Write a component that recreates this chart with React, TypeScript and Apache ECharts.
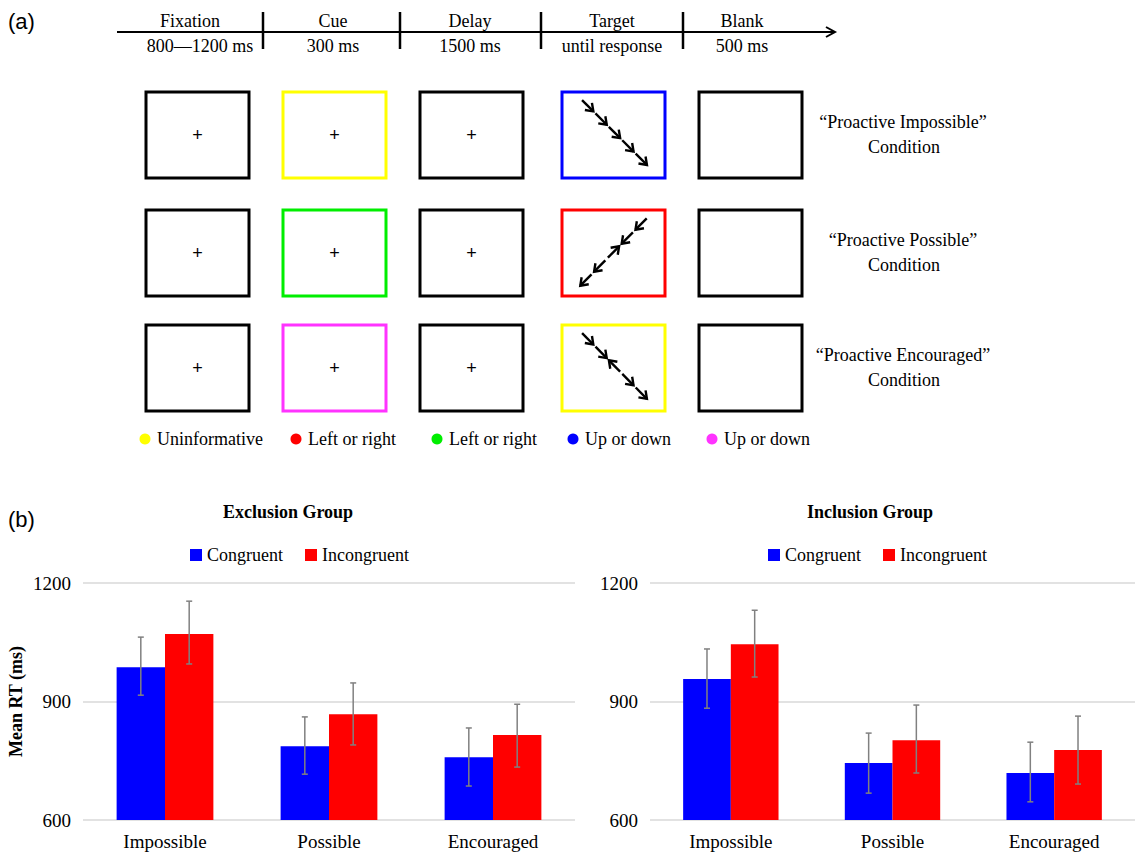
import { useEffect, useRef } from 'react'
import * as echarts from 'echarts'

// panel (b) data
const conditions = ['Impossible', 'Possible', 'Encouraged']
const yTicks = [600, 900, 1200]
const exclCong = [987, 787, 759]
const exclCongErr = [[916, 1063], [716, 861], [686, 833]]
const exclIncong = [1071, 868, 815]
const exclIncongErr = [[995, 1154], [790, 947], [734, 893]]
const inclCong = [957, 744, 719]
const inclCongErr = [[883, 1033], [668, 820], [646, 797]]
const inclIncong = [1045, 802, 777]
const inclIncongErr = [[962, 1131], [719, 891], [691, 863]]

// panel (a) content
const stages = ['Fixation', 'Cue', 'Delay', 'Target', 'Blank']
const durations = ['800\u20141200 ms', '300 ms', '1500 ms', 'until response', '500 ms']
const conditionNames = ['\u201cProactive Impossible\u201d', '\u201cProactive Possible\u201d', '\u201cProactive Encouraged\u201d']
const cueColors = ['#ffff00', '#00ee00', '#ff33ff']
const targetColors = ['#0000ff', '#ff0000', '#ffff00']
const cueLegend = [
  { label: 'Uninformative', color: '#ffff00' },
  { label: 'Left or right', color: '#ff0000' },
  { label: 'Left or right', color: '#00ee00' },
  { label: 'Up or down', color: '#0000ff' },
  { label: 'Up or down', color: '#ff33ff' },
]

const SERIF = '"Liberation Serif", "DejaVu Serif", serif'
const SANS = '"Liberation Sans", Arial, sans-serif'

function arrowGroup(sx: number, sy: number, ex: number, ey: number, flips: number[]) {
  const els: any[] = []
  const len = Math.hypot(ex - sx, ey - sy)
  const ux = (ex - sx) / len
  const uy = (ey - sy) / len
  const ts = [0.1, 0.3, 0.5, 0.7, 0.9]
  ts.forEach((t, i) => {
    const cx = sx + (ex - sx) * t
    const cy = sy + (ey - sy) * t
    const dx = ux * flips[i]
    const dy = uy * flips[i]
    const hx = cx + dx * 8
    const hy = cy + dy * 8
    const style = { stroke: '#000', lineWidth: 2.4, fill: null }
    els.push({ type: 'line', shape: { x1: cx - dx * 8, y1: cy - dy * 8, x2: hx, y2: hy }, style })
    els.push({
      type: 'polyline',
      shape: {
        points: [
          [hx - dx * 7 - dy * 5, hy - dy * 7 + dx * 5],
          [hx, hy],
          [hx - dx * 7 + dy * 5, hy - dy * 7 - dx * 5],
        ],
      },
      style,
    })
  })
  return els
}

export default function App() {
  const chartRef = useRef<HTMLDivElement>(null)

  useEffect(() => {
    if (!chartRef.current) return
    document.body.style.margin = '0'
    const chart = echarts.init(chartRef.current, null, { renderer: 'svg' })

    const graphics: any[] = []
    // panel labels
    graphics.push({ type: 'text', x: 8, y: 10, style: { text: '(a)', font: `22px ${SANS}`, fill: '#000' } })
    graphics.push({ type: 'text', x: 8, y: 508, style: { text: '(b)', font: `22px ${SANS}`, fill: '#000' } })

    // timeline
    graphics.push({ type: 'line', shape: { x1: 117, y1: 32, x2: 834, y2: 32 }, style: { stroke: '#000', lineWidth: 2 } })
    graphics.push({ type: 'polyline', shape: { points: [[826, 27], [835, 32], [826, 37]] }, style: { stroke: '#000', lineWidth: 2, fill: null } })
    ;[263, 400, 541, 683].forEach((x) => {
      graphics.push({ type: 'line', shape: { x1: x, y1: 12, x2: x, y2: 49 }, style: { stroke: '#000', lineWidth: 2.5 } })
    })
    const stageX = [190, 333, 470, 612, 742]
    stages.forEach((s, i) => {
      graphics.push({ type: 'text', x: stageX[i], y: 21, style: { text: s, font: `18px ${SERIF}`, fill: '#000', align: 'center', verticalAlign: 'middle' } })
      graphics.push({ type: 'text', x: i === 0 ? 200 : stageX[i], y: 46, style: { text: durations[i], font: `18px ${SERIF}`, fill: '#000', align: 'center', verticalAlign: 'middle' } })
    })

    // boxes
    const colX = [146, 283, 420, 562, 699]
    const rowY = [92, 210, 325]
    const bw = 103
    const bh = 86
    rowY.forEach((y, r) => {
      colX.forEach((x, c) => {
        let stroke = '#000'
        if (c === 1) stroke = cueColors[r]
        if (c === 3) stroke = targetColors[r]
        graphics.push({ type: 'rect', shape: { x, y, width: bw, height: bh }, style: { stroke, lineWidth: 3, fill: null } })
        if (c < 3) {
          graphics.push({ type: 'text', x: x + bw / 2, y: y + bh / 2, style: { text: '+', font: `18px ${SANS}`, fill: '#000', align: 'center', verticalAlign: 'middle' } })
        }
      })
      graphics.push({ type: 'text', x: 903, y: y + 30, style: { text: conditionNames[r], font: `18px ${SERIF}`, fill: '#000', align: 'center', verticalAlign: 'middle' } })
      graphics.push({ type: 'text', x: 904, y: y + 55, style: { text: 'Condition', font: `18px ${SERIF}`, fill: '#000', align: 'center', verticalAlign: 'middle' } })
    })
    graphics.push(...arrowGroup(581, 99, 648, 166, [1, 1, 1, 1, 1]))
    graphics.push(...arrowGroup(648, 217, 579, 287, [1, 1, -1, 1, 1]))
    graphics.push(...arrowGroup(581, 332, 648, 400, [1, 1, -1, 1, 1]))

    // cue legend
    const legX = [145, 296, 437, 573, 712]
    cueLegend.forEach((l, i) => {
      graphics.push({ type: 'circle', shape: { cx: legX[i], cy: 439, r: 5.5 }, style: { fill: l.color } })
      graphics.push({ type: 'text', x: legX[i] + 12, y: 439, style: { text: l.label, font: `18px ${SERIF}`, fill: '#000', verticalAlign: 'middle' } })
    })

    // panel (b) titles
    graphics.push({ type: 'text', x: 288, y: 512, style: { text: 'Exclusion Group', font: `bold 18px ${SERIF}`, fill: '#000', align: 'center', verticalAlign: 'middle' } })
    graphics.push({ type: 'text', x: 870, y: 512, style: { text: 'Inclusion Group', font: `bold 18px ${SERIF}`, fill: '#000', align: 'center', verticalAlign: 'middle' } })

    const gap = 0.41
    const errSeries = (name: string, gridIdx: number, data: number[][], side: number) => ({
      name,
      type: 'custom',
      xAxisIndex: gridIdx,
      yAxisIndex: gridIdx,
      z: 5,
      data: data.map((d, i) => [i, d[0], d[1]]),
      renderItem: (_params: any, api: any) => {
        const w = api.size([1, 0])[0] * (1 - gap) / 2
        const lo = api.coord([api.value(0), api.value(1)])
        const hi = api.coord([api.value(0), api.value(2)])
        const x = lo[0] + (side * w) / 2
        const style = { stroke: '#808080', lineWidth: 1.5 }
        return {
          type: 'group',
          children: [
            { type: 'line', shape: { x1: x, y1: lo[1], x2: x, y2: hi[1] }, style },
            { type: 'line', shape: { x1: x - 3, y1: lo[1], x2: x + 3, y2: lo[1] }, style },
            { type: 'line', shape: { x1: x - 3, y1: hi[1], x2: x + 3, y2: hi[1] }, style },
          ],
        }
      },
    })
    const barSeries = (name: string, gridIdx: number, data: number[], color: string) => ({
      name,
      type: 'bar',
      xAxisIndex: gridIdx,
      yAxisIndex: gridIdx,
      data,
      barGap: '0%',
      barCategoryGap: '41%',
      itemStyle: { color },
    })
    const xAxis = (gridIndex: number) => ({
      type: 'category',
      gridIndex,
      data: conditions,
      axisTick: { show: false },
      axisLine: { show: false },
      axisLabel: { color: '#000', fontFamily: SERIF, fontSize: 19, margin: 12 },
    })
    const yAxis = (gridIndex: number, named: boolean) => ({
      type: 'value',
      gridIndex,
      min: yTicks[0],
      max: yTicks[yTicks.length - 1],
      interval: 300,
      name: named ? 'Mean RT (ms)' : '',
      nameLocation: 'middle',
      nameGap: 58,
      nameTextStyle: { color: '#000', fontFamily: SERIF, fontSize: 18, fontWeight: 'bold' },
      axisLine: { show: false },
      axisTick: { show: false },
      axisLabel: { color: '#000', fontFamily: SERIF, fontSize: 19, margin: 12, formatter: (v: number) => String(v) },
      splitLine: { lineStyle: { color: '#d9d9d9', width: 1.5 } },
    })
    const legend = (left: number) => ({
      left,
      top: 541,
      itemWidth: 12,
      itemHeight: 12,
      itemGap: 22,
      icon: 'rect',
      data: ['Congruent', 'Incongruent'],
      textStyle: { color: '#000', fontFamily: SERIF, fontSize: 18 },
    })

    chart.setOption({
      animation: false,
      legend: [legend(185), legend(763)],
      grid: [
        { left: 83, top: 583, width: 492, height: 237 },
        { left: 650, top: 583, width: 485, height: 237 },
      ],
      xAxis: [xAxis(0), xAxis(1)],
      yAxis: [yAxis(0, true), yAxis(1, false)],
      series: [
        barSeries('Congruent', 0, exclCong, '#0000ff'),
        barSeries('Incongruent', 0, exclIncong, '#ff0000'),
        barSeries('Congruent', 1, inclCong, '#0000ff'),
        barSeries('Incongruent', 1, inclIncong, '#ff0000'),
        errSeries('errExclC', 0, exclCongErr, -1),
        errSeries('errExclI', 0, exclIncongErr, 1),
        errSeries('errInclC', 1, inclCongErr, -1),
        errSeries('errInclI', 1, inclIncongErr, 1),
      ],
      graphic: graphics,
    })

    return () => {
      chart.dispose()
    }
  }, [])

  return <div ref={chartRef} style={{ width: 1135, height: 856 }} />
}
